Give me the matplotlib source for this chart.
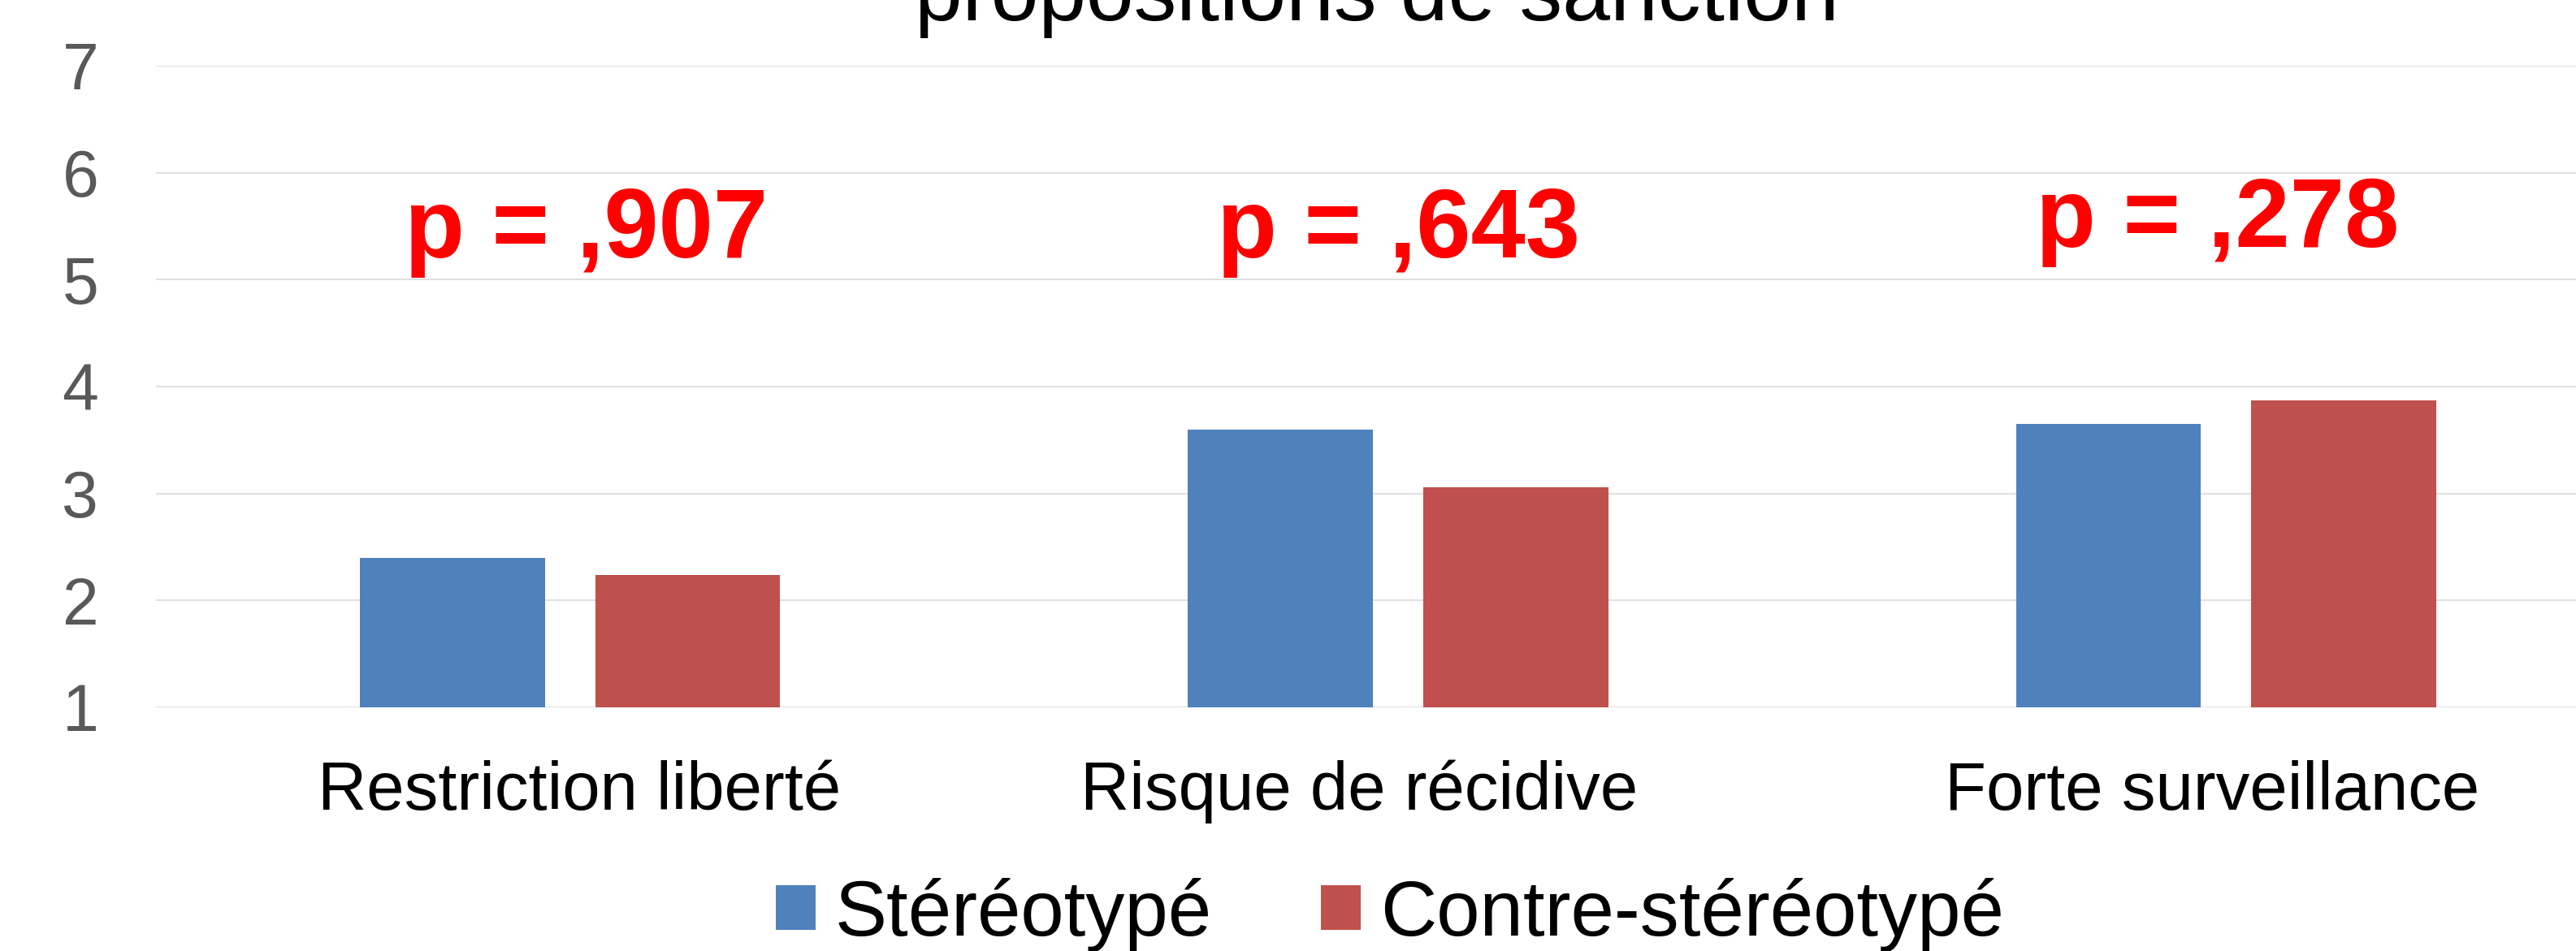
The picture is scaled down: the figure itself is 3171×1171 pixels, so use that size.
import matplotlib
matplotlib.use("Agg")
from matplotlib import pyplot as plt
import numpy as np

plt.rcParams['font.family'] = ['Liberation Sans', 'DejaVu Sans']

# Data
categories = ["Restriction liberté", "Risque de récidive", "Forte surveillance"]
series_names = ["Stéréotypé", "Contre-stéréotypé"]
stereotype = [2.40, 3.60, 3.65]
contre_stereotype = [2.24, 3.06, 3.87]
p_labels = ["p = ,907", "p = ,643", "p = ,278"]
p_heights = [5.21, 5.21, 5.31]
y_ticks = [1, 2, 3, 4, 5, 6, 7]

BLUE = "#4F81BD"
RED = "#C0504D"
W, H = 3171, 1171

fig = plt.figure(figsize=(W / 100, H / 100), dpi=100)
# plot area runs past the right edge in the original (it is cropped)
ax = fig.add_axes([192 / W, 300 / H, (3250 - 192) / W, 790 / H])

x = np.arange(len(categories))
off, bw = 0.142, 0.2235
b1 = ax.bar(x - off, stereotype, bw, color=BLUE, label=series_names[0], zorder=2)
b2 = ax.bar(x + off, contre_stereotype, bw, color=RED, label=series_names[1], zorder=2)

ax.set_xlim(-0.5, 2.5)
ax.set_ylim(1, 7)
ax.set_yticks(y_ticks)
ax.tick_params(axis='y', length=0, pad=51, labelsize=58, labelcolor="#595959")
ax.grid(axis='y', color="#D9D9D9", linewidth=1.2, zorder=0)
ax.set_axisbelow(True)
for s in ax.spines.values():
    s.set_visible(False)

# category labels sit a bit off-centre in the original
nudge = [0.011, -0.047, -0.017]
ax.set_xticks(x + np.array(nudge))
ax.set_xticklabels(categories, fontsize=60)
ax.tick_params(axis='x', length=0, pad=91)
for lab in ax.get_xticklabels():
    lab.set_va('baseline')

# p-values
p_x = [0.02, 1.0, 1.99]
for px, py, txt in zip(p_x, p_heights, p_labels):
    ax.text(px, py, txt, ha='center', va='baseline', color="#FF0000",
            fontsize=87, fontweight='bold', zorder=3)

# title, mostly cut off at top of the image
fig.text(1695 / W, 1 - 25 / H, "propositions de sanction", ha='center',
         va='baseline', fontsize=76, color="black")

fig.legend(handles=[b1, b2], labels=series_names, ncol=2, loc='center',
           bbox_to_anchor=(1711 / W, 45 / H), frameon=False, fontsize=69,
           handlelength=0.51, handleheight=0.5, handletextpad=0.25,
           columnspacing=1.4, borderpad=0, borderaxespad=0)

fig.savefig("out.png", dpi=100)
